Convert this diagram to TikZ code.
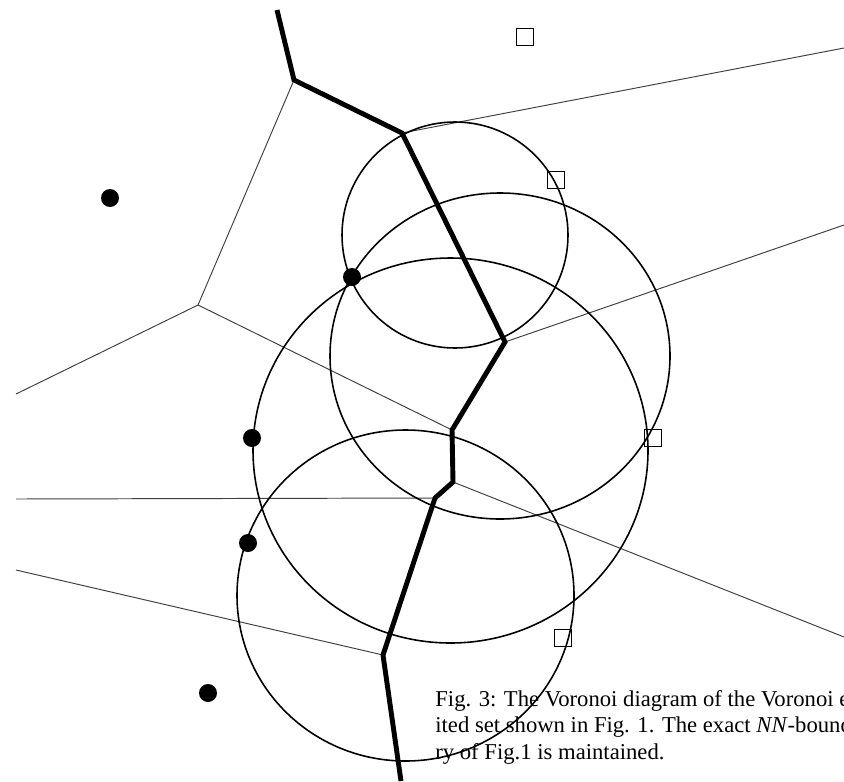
\documentclass[tikz,border=0pt]{standalone}
\usepackage{fontspec}
\setmainfont{Liberation Serif}
\usetikzlibrary{positioning}

\begin{document}
\begin{tikzpicture}[x=0.02cm, y=-0.02cm,
    nnedge/.style={line width=2.8pt, line join=miter},
    voredge/.style={line width=0.55pt, black!75},
    nncircle/.style={line width=0.9pt},
    dotsite/.style={circle, fill=black, inner sep=0pt, minimum size=0.36cm},
    boxsite/.style={draw, line width=0.8pt, inner sep=0pt, minimum size=0.34cm},
    caption/.style={anchor=base west, inner sep=0pt, font=\fontsize{12.9}{15}\selectfont}]
  \clip (0,0) rectangle (844,781);
  % vertices of the NN-boundary
  \coordinate (v0) at (277,10);
  \coordinate (v1) at (294,80);
  \coordinate (v2) at (402,133);
  \coordinate (v3) at (505,342);
  \coordinate (v4) at (452,430);
  \coordinate (v5) at (453,482);
  \coordinate (v6) at (435,498);
  \coordinate (v7) at (383,655);
  \coordinate (v8) at (401,781);
  \coordinate (w1) at (198,305);
  % free ends at the border
  \coordinate (e1) at (844,48);
  \coordinate (e2) at (844,225);
  \coordinate (e3) at (844,637);
  \coordinate (e4) at (16,394);
  \coordinate (e5) at (16,499);
  \coordinate (e6) at (16,570);
  % thin voronoi edges
  \draw[voredge] (v1) -- (w1) -- (e4);
  \draw[voredge] (w1) -- (v4);
  \draw[voredge] (v2) -- (e1);
  \draw[voredge] (v3) -- (e2);
  \draw[voredge] (v5) -- (e3);
  \draw[voredge] (v6) -- (e5);
  \draw[voredge] (v7) -- (e6);
  % NN-boundary
  \draw[nnedge] (v0) -- (v1) -- (v2) -- (v3) -- (v4) -- (v5) -- (v6) -- (v7) -- (v8);
  % empty circles
  \draw[nncircle] (455,235) ellipse [x radius=113, y radius=113];
  \draw[nncircle] (500,356) ellipse [x radius=170, y radius=163];
  \draw[nncircle] (450.5,450.5) ellipse [x radius=197.5, y radius=192.5];
  \draw[nncircle] (405.5,595.5) ellipse [x radius=168.5, y radius=165.5];
  % sites
  \foreach \n/\p in {d1/{(110,198)}, d2/{(352,277)}, d3/{(252,438)}, d4/{(248,543)}, d5/{(208,693)}}{
    \node[dotsite] (\n) at \p {};
  }
  \foreach \n/\p in {s1/{(525,37)}, s2/{(556,180)}, s3/{(653,438)}, s4/{(563,638)}}{
    \node[boxsite] (\n) at \p {};
  }
  % caption
  \node[caption] (c1) at (435,706) {Fig. 3: The Voronoi diagram of the Voronoi e};
  \node[caption] (c2) at (435,732.7) {ited set shown in Fig. 1. The exact \textit{NN}-bound};
  \node[caption] (c3) at (435,759.3) {ry of Fig.1 is maintained.};
\end{tikzpicture}
\end{document}
